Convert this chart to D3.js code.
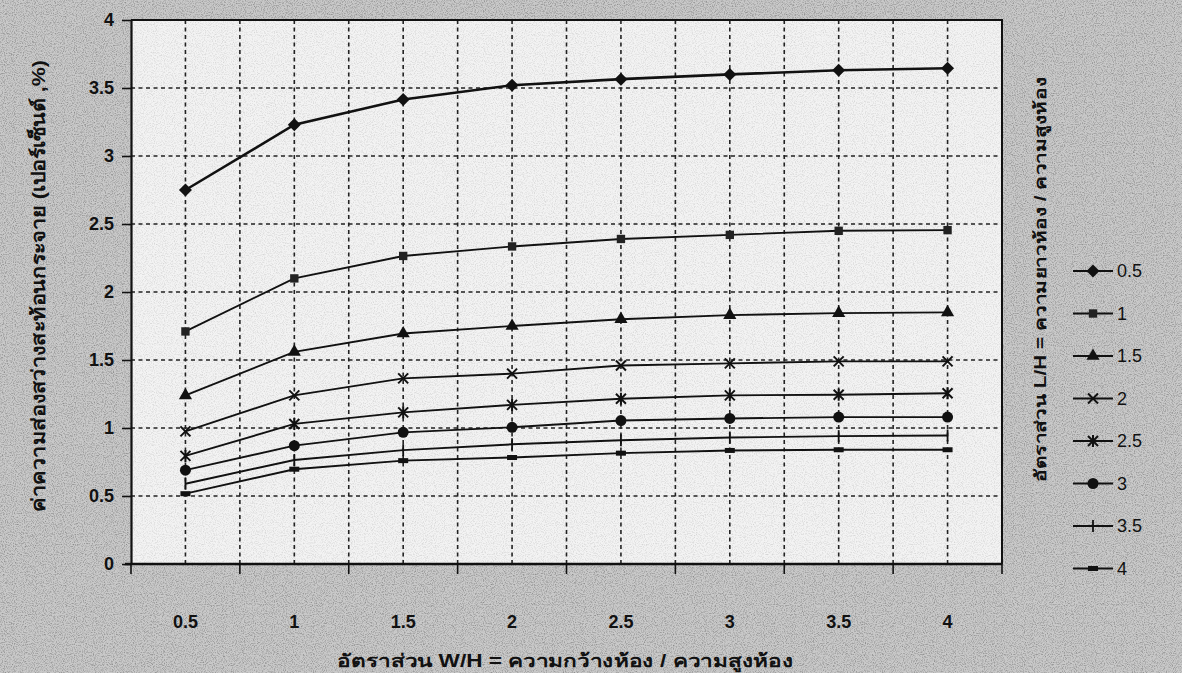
<!DOCTYPE html>
<html>
<head>
<meta charset="utf-8">
<script src="https://cdn.jsdelivr.net/npm/d3@7"></script>
<style>
  body { margin: 0; background: #c6c6c6; }
  svg { display: block; }
  text { font-family: "Liberation Sans", Arial, "Noto Sans", sans-serif; fill: #111; }
</style>
</head>
<body>
<script>
// W/H ratios along the x axis
const categories = ["0.5", "1", "1.5", "2", "2.5", "3", "3.5", "4"];
// L/H ratios (one line each)
const seriesNames = ["0.5", "1", "1.5", "2", "2.5", "3", "3.5", "4"];
const lh05 = [2.75, 3.23, 3.415, 3.52, 3.565, 3.60, 3.63, 3.645];
const lh10 = [1.71, 2.10, 2.265, 2.335, 2.39, 2.42, 2.45, 2.455];
const lh15 = [1.24, 1.56, 1.695, 1.75, 1.80, 1.83, 1.845, 1.85];
const lh20 = [0.975, 1.24, 1.365, 1.40, 1.46, 1.475, 1.49, 1.49];
const lh25 = [0.795, 1.03, 1.115, 1.17, 1.215, 1.24, 1.245, 1.255];
const lh30 = [0.69, 0.87, 0.968, 1.005, 1.055, 1.07, 1.08, 1.08];
const lh35 = [0.59, 0.765, 0.837, 0.88, 0.91, 0.93, 0.94, 0.945];
const lh40 = [0.517, 0.697, 0.76, 0.783, 0.815, 0.835, 0.84, 0.84];
const yTicks = [0, 0.5, 1, 1.5, 2, 2.5, 3, 3.5, 4];

const allSeries = [lh05, lh10, lh15, lh20, lh25, lh30, lh35, lh40];
const markers = ["diamond", "square", "triangle", "x", "star", "circle", "plus", "dash"];

var width = 1182, height = 673;
var plotLeft = 131, plotRight = 1002, plotTop = 20, plotBottom = 564;

var svg = d3.select("body").append("svg")
    .attr("width", width)
    .attr("height", height);

// scanned-paper grain
var defs = svg.append("defs");
var grain = defs.append("filter").attr("id", "grain")
    .attr("x", 0).attr("y", 0).attr("width", "100%").attr("height", "100%");
grain.append("feTurbulence")
    .attr("type", "fractalNoise").attr("baseFrequency", 0.9)
    .attr("numOctaves", 2).attr("seed", 3);
grain.append("feColorMatrix")
    .attr("type", "matrix")
    .attr("values", "0 0 0 0 0  0 0 0 0 0  0 0 0 0 0  0 0 0 -2.2 1.25");

svg.append("rect")
    .attr("width", width).attr("height", height)
    .attr("fill", "#c9c9c9");

svg.append("rect")
    .attr("width", width).attr("height", height)
    .attr("filter", "url(#grain)")
    .attr("opacity", 0.3);

// plot background
svg.append("rect")
    .attr("x", plotLeft).attr("y", plotTop)
    .attr("width", plotRight - plotLeft).attr("height", plotBottom - plotTop)
    .attr("fill", "#f3f3f3");

svg.append("rect")
    .attr("x", plotLeft).attr("y", plotTop)
    .attr("width", plotRight - plotLeft).attr("height", plotBottom - plotTop)
    .attr("filter", "url(#grain)")
    .attr("opacity", 0.12);

var x = d3.scalePoint().domain(categories).range([plotLeft, plotRight]).padding(0.5);
var y = d3.scaleLinear().domain([0, 4]).range([plotBottom, plotTop]);
var step = x.step();

// gridlines: vertical at category centres and between them
var vGrid = [];
categories.forEach(function (c, i) {
    vGrid.push(x(c));
    if (i < categories.length - 1) vGrid.push(x(c) + step / 2);
});
svg.append("g").selectAll("line")
    .data(vGrid)
    .enter().append("line")
    .attr("x1", d => d).attr("x2", d => d)
    .attr("y1", plotTop).attr("y2", plotBottom)
    .attr("stroke", "#222").attr("stroke-width", 1.6)
    .attr("stroke-dasharray", "4,3.5");

svg.append("g").selectAll("line")
    .data(yTicks.filter(d => d > 0 && d < 4))
    .enter().append("line")
    .attr("x1", plotLeft).attr("x2", plotRight)
    .attr("y1", d => y(d)).attr("y2", d => y(d))
    .attr("stroke", "#222").attr("stroke-width", 1.6)
    .attr("stroke-dasharray", "4,3.5");

// frame
svg.append("path")
    .attr("d", "M" + plotLeft + "," + plotTop + "H" + plotRight + "V" + plotBottom)
    .attr("fill", "none").attr("stroke", "#111").attr("stroke-width", 2);

// y axis
var yAxis = d3.axisLeft(y).tickValues(yTicks).tickSize(9).tickSizeOuter(0)
    .tickFormat(d => d);
var gy = svg.append("g").attr("transform", "translate(" + plotLeft + ",0)").call(yAxis);
gy.attr("font-size", null).attr("font-family", null);
gy.select(".domain").attr("stroke", "#111").attr("stroke-width", 2.2);
gy.selectAll(".tick line").attr("stroke", "#111").attr("stroke-width", 1.6);
gy.selectAll(".tick text")
    .attr("x", -17)
    .attr("fill", "#111")
    .style("font-family", "'Liberation Sans', Arial, sans-serif")
    .style("font-size", "18px").style("font-weight", "bold");

// x axis: ticks between categories, labels under the points
var xEdges = d3.range(categories.length + 1).map(i => plotLeft + i * step);
var gx = svg.append("g");
gx.append("line")
    .attr("x1", plotLeft - 6).attr("x2", plotRight)
    .attr("y1", plotBottom).attr("y2", plotBottom)
    .attr("stroke", "#111").attr("stroke-width", 2.4);
gx.selectAll("line.tk")
    .data(xEdges)
    .enter().append("line")
    .attr("class", "tk")
    .attr("x1", d => d).attr("x2", d => d)
    .attr("y1", plotBottom).attr("y2", plotBottom + 10)
    .attr("stroke", "#111").attr("stroke-width", 1.6);
gx.selectAll("text")
    .data(categories)
    .enter().append("text")
    .attr("x", d => x(d))
    .attr("y", 628)
    .attr("text-anchor", "middle")
    .style("font-family", "'Liberation Sans Narrow', 'Liberation Sans', sans-serif")
    .style("font-size", "18px").style("font-weight", "bold")
    .text(d => d);

// axis titles
svg.append("text")
    .attr("x", 337).attr("y", 667)
    .attr("textLength", 456).attr("lengthAdjust", "spacingAndGlyphs")
    .style("font-size", "18px").style("font-weight", "bold")
    .text("อัตราส่วน W/H = ความกว้างห้อง / ความสูงห้อง");

svg.append("text")
    .attr("transform", "translate(45,512) rotate(-90)")
    .attr("textLength", 452).attr("lengthAdjust", "spacingAndGlyphs")
    .style("font-size", "19px").style("font-weight", "bold")
    .text("ค่าความส่องสว่างสะท้อนกระจาย (เปอร์เซ็นต์ ,%)");

svg.append("text")
    .attr("transform", "translate(1046,482) rotate(-90)")
    .attr("textLength", 405).attr("lengthAdjust", "spacingAndGlyphs")
    .style("font-size", "16px").style("font-weight", "bold")
    .text("อัตราส่วน L/H = ความยาวห้อง / ความสูงห้อง");

// markers
function drawMarker(g, type) {
    if (type === "diamond") {
        g.append("path").attr("d", "M0,-6.5L6.5,0L0,6.5L-6.5,0Z").attr("fill", "#111");
    } else if (type === "square") {
        g.append("path").attr("d", d3.symbol(d3.symbolSquare, 70)()).attr("fill", "#222");
    } else if (type === "triangle") {
        g.append("path").attr("d", d3.symbol(d3.symbolTriangle, 75)()).attr("fill", "#111");
    } else if (type === "circle") {
        g.append("path").attr("d", d3.symbol(d3.symbolCircle, 95)()).attr("fill", "#111");
    } else if (type === "x") {
        g.append("path").attr("d", "M-5,-5L5,5M-5,5L5,-5")
            .attr("stroke", "#111").attr("stroke-width", 2);
    } else if (type === "star") {
        g.append("path").attr("d", "M-5,-5L5,5M-5,5L5,-5M0,-6V6")
            .attr("stroke", "#111").attr("stroke-width", 2);
    } else if (type === "plus") {
        g.append("path").attr("d", "M0,-6V6")
            .attr("stroke", "#111").attr("stroke-width", 1.8);
    } else if (type === "dash") {
        g.append("rect").attr("x", -5).attr("y", -2.5).attr("width", 10).attr("height", 5)
            .attr("fill", "#111");
    }
}

var line = d3.line()
    .x((d, i) => x(categories[i]))
    .y(d => y(d));

allSeries.forEach(function (vals, k) {
    svg.append("path")
        .datum(vals)
        .attr("d", line)
        .attr("fill", "none")
        .attr("stroke", "#111")
        .attr("stroke-width", k === 0 ? 2.6 : 1.9);
    vals.forEach(function (v, i) {
        var g = svg.append("g")
            .attr("transform", "translate(" + x(categories[i]) + "," + y(v) + ")");
        drawMarker(g, markers[k]);
    });
});

// legend
var legend = svg.selectAll("g.legend")
    .data(seriesNames)
    .enter().append("g")
    .attr("class", "legend")
    .attr("transform", (d, i) => "translate(1073," + (271 + i * 42.5) + ")");
legend.append("line")
    .attr("x1", 0).attr("x2", 40)
    .attr("stroke", "#111").attr("stroke-width", 1.9);
legend.each(function (d, i) {
    var g = d3.select(this).append("g").attr("transform", "translate(20,0)");
    drawMarker(g, markers[i]);
});
legend.append("text")
    .attr("x", 44).attr("y", 6)
    .style("font-size", "18px")
    .text(d => d);
</script>
</body>
</html>
